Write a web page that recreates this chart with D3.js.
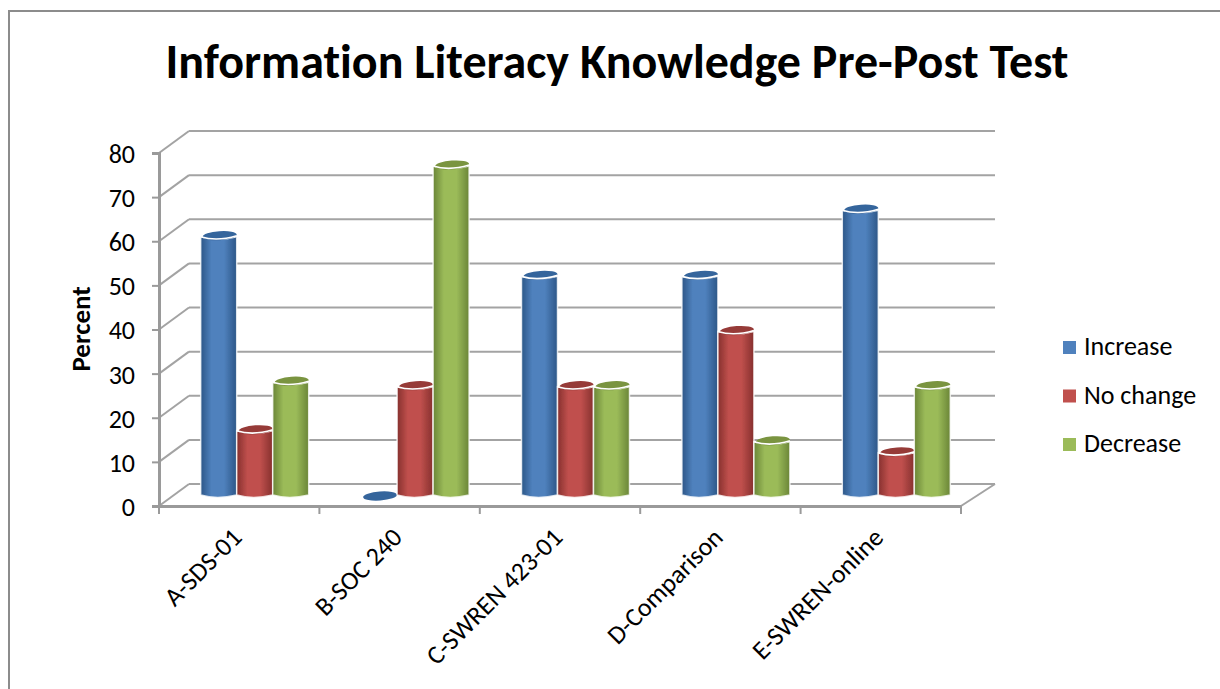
<!DOCTYPE html>
<html>
<head>
<meta charset="utf-8">
<script src="https://cdn.jsdelivr.net/npm/d3@7"></script>
<style>
  html, body { margin: 0; padding: 0; background: #fff; overflow: hidden; }
  text { font-family: Carlito, Lato, sans-serif; fill: #000; font-variant-ligatures: none; }
</style>
</head>
<body>
<div id="chart"></div>
<script>
// data
var categories = ["A-SDS-01", "B-SOC 240", "C-SWREN 423-01", "D-Comparison", "E-SWREN-online"];
var seriesNames = ["Increase", "No change", "Decrease"];
var increase = [59, 0, 50, 50, 65];
var noChange = [15, 25, 25, 37.5, 10];
var decrease = [26, 75, 25, 12.5, 25];
var yTicks = [0, 10, 20, 30, 40, 50, 60, 70, 80];

var seriesValues = [increase, noChange, decrease];
var colors = ["#4f81bd", "#c0504d", "#9bbb59"];
var darks = ["#2c5687", "#86302e", "#6a8537"];
var tops = ["#36659c", "#963a38", "#7a9440"];

var width = 1220, height = 689;
var svg = d3.select("#chart").append("svg")
  .attr("width", width).attr("height", height)
  .style("display", "block");

var defs = svg.append("defs");
defs.append("filter").attr("id", "soft")
  .append("feGaussianBlur").attr("stdDeviation", 0.5);

colors.forEach(function(c, i) {
  var grad = defs.append("linearGradient").attr("id", "bar" + i);
  grad.append("stop").attr("offset", "0%").attr("stop-color", darks[i]);
  grad.append("stop").attr("offset", "30%").attr("stop-color", c);
  grad.append("stop").attr("offset", "65%").attr("stop-color", c);
  grad.append("stop").attr("offset", "100%").attr("stop-color", darks[i]);
});

// outer frame, runs off the picture on the right and bottom
svg.append("rect")
  .attr("x", 9).attr("y", 11)
  .attr("width", 1300).attr("height", 800)
  .attr("fill", "none").attr("stroke", "#8c8c8c").attr("stroke-width", 2);

svg.append("text")
  .attr("x", 617).attr("y", 78)
  .attr("text-anchor", "middle")
  .attr("font-size", 48).attr("font-weight", 700)
  .text("Information Literacy Knowledge Pre-Post Test");

// scales, front plane of the 3d box
var x = d3.scaleBand().domain(categories).range([159, 961]);
var y = d3.scaleLinear().domain([0, 80]).range([506, 153]);
var bar = d3.scaleBand().domain(d3.range(3)).range([0, 108]);

var depth = {x: 30, y: -22};      // front plane to back wall
var barPlane = {x: 15.5, y: -9};  // front plane to the bars
var groupPad = (x.bandwidth() - bar.range()[1]) / 2;

var gridColor = "#a3a3a3";
var walls = svg.append("g").attr("filter", "url(#soft)");

// back wall gridlines and side wall diagonals
walls.selectAll("line.grid").data(yTicks).join("line")
  .attr("class", "grid")
  .attr("x1", depth.x + x.range()[0]).attr("x2", depth.x + x.range()[1] + 4)
  .attr("y1", d => y(d) + depth.y).attr("y2", d => y(d) + depth.y)
  .attr("stroke", gridColor).attr("stroke-width", 2);

walls.selectAll("line.side").data(yTicks).join("line")
  .attr("class", "side")
  .attr("x1", x.range()[0]).attr("x2", x.range()[0] + depth.x)
  .attr("y1", d => y(d)).attr("y2", d => y(d) + depth.y)
  .attr("stroke", gridColor).attr("stroke-width", 2);

// right edge of the floor
walls.append("line")
  .attr("x1", x.range()[1]).attr("y1", y(0))
  .attr("x2", x.range()[1] + depth.x + 4).attr("y2", y(0) + depth.y)
  .attr("stroke", gridColor).attr("stroke-width", 2);

// axes
var yAxis = d3.axisLeft(y).tickValues(yTicks).tickSize(7).tickPadding(17);
var yG = svg.append("g")
  .attr("transform", "translate(" + x.range()[0] + ",0)")
  .call(yAxis);
yG.select(".domain").attr("stroke", "#9a9a9a").attr("stroke-width", 3);
yG.selectAll(".tick line").attr("stroke", "#9a9a9a").attr("stroke-width", 2);
yG.selectAll(".tick text").attr("font-size", 26).attr("dy", "0.36em")
  .style("font-family", "Carlito, Lato, sans-serif");

var xAxis = d3.axisBottom(x).tickSize(0).tickFormat("");
var xG = svg.append("g")
  .attr("transform", "translate(0," + y(0) + ")")
  .call(xAxis);
xG.select(".domain").attr("stroke", "#9a9a9a").attr("stroke-width", 3);

// ticks sit between the categories
svg.append("g").selectAll("line").data(d3.range(categories.length + 1)).join("line")
  .attr("x1", d => x.range()[0] + d * x.step()).attr("x2", d => x.range()[0] + d * x.step())
  .attr("y1", y(0)).attr("y2", y(0) + 8)
  .attr("stroke", "#9a9a9a").attr("stroke-width", 2);

// category labels
svg.append("g").selectAll("text").data(categories).join("text")
  .attr("transform", d => "translate(" + (x(d) + x.bandwidth() / 2 + 4) + "," + (y(0) + 33) + ") rotate(-45)")
  .attr("text-anchor", "end")
  .attr("font-size", 26)
  .text(d => d);

svg.append("text")
  .attr("transform", "translate(90,329) rotate(-90)")
  .attr("text-anchor", "middle")
  .attr("font-size", 27).attr("font-weight", 700)
  .text("Percent");

// cylinders
function cylinderPath(x0, w, yTop, yBase) {
  var p = d3.path();
  p.moveTo(x0, yTop);
  p.lineTo(x0, yBase - 2);
  p.quadraticCurveTo(x0 + w * 0.45, yBase + 3, x0 + w, yBase - 2);
  p.lineTo(x0 + w, yTop);
  p.quadraticCurveTo(x0 + w * 0.45, yTop + 5, x0, yTop);
  p.closePath();
  return p.toString();
}

var bars = svg.append("g").attr("filter", "url(#soft)");
var barData = [];
categories.forEach(function(c, ci) {
  seriesValues.forEach(function(vals, si) {
    barData.push({cat: c, s: si, v: vals[ci]});
  });
});

var groups = bars.selectAll("g").data(barData).join("g")
  .attr("transform", d => "translate(" + (x(d.cat) + groupPad + barPlane.x + bar(d.s)) + "," + barPlane.y + ")");

groups.filter(d => d.v > 0).append("path")
  .attr("d", d => cylinderPath(0, bar.bandwidth(), y(d.v), y(0)))
  .attr("fill", d => "url(#bar" + d.s + ")")
  .attr("stroke", "#fff").attr("stroke-opacity", 0.8).attr("stroke-width", 1.5);

groups.append("ellipse")
  .attr("cx", bar.bandwidth() / 2 + 1)
  .attr("cy", d => y(d.v) - 1)
  .attr("rx", bar.bandwidth() / 2 - 1).attr("ry", 4.5)
  .attr("transform", d => "rotate(-4," + (bar.bandwidth() / 2 + 1) + "," + (y(d.v) - 1) + ")")
  .attr("fill", d => tops[d.s]);

groups.filter(d => d.v > 0).append("path")
  .attr("d", d => {
    var w = bar.bandwidth(), t = y(d.v), p = d3.path();
    p.moveTo(0, t);
    p.quadraticCurveTo(w * 0.45, t + 5, w, t - 1);
    return p.toString();
  })
  .attr("fill", "none").attr("stroke", "#fff").attr("stroke-width", 1.6);

// legend
var legend = svg.append("g").selectAll("g").data(seriesNames).join("g")
  .attr("transform", (d, i) => "translate(1063," + (341 + i * 48.5) + ")");
legend.append("rect")
  .attr("width", 13).attr("height", 13)
  .attr("fill", (d, i) => colors[i]);
legend.append("text")
  .attr("x", 21).attr("y", 14)
  .attr("font-size", 26)
  .text(d => d);
</script>
</body>
</html>
